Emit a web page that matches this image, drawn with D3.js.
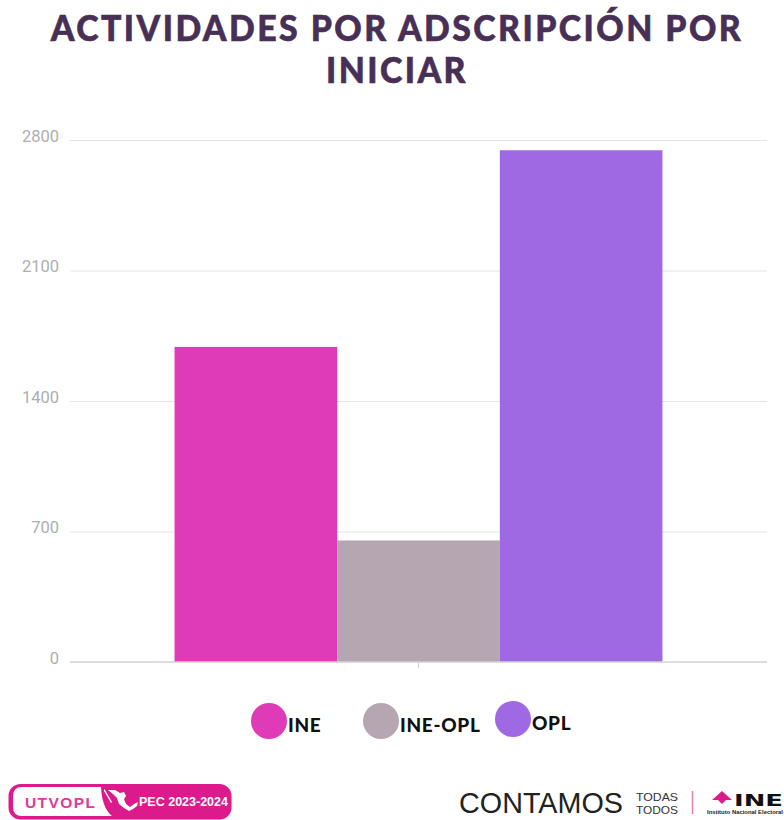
<!DOCTYPE html>
<html>
<head>
<meta charset="utf-8">
<script src="https://cdn.jsdelivr.net/npm/d3@7"></script>
<style>
  html, body { margin: 0; padding: 0; background: #fff; }
  svg { display: block; }
</style>
</head>
<body>
<div id="chart"></div>
<script>
const titleLines = ["ACTIVIDADES POR ADSCRIPCIÓN POR", "INICIAR"];
const categories = ["INE", "INE-OPL", "OPL"];
const values = [1690, 652, 2745];
const colors = ["#df3ab8", "#b6a6b1", "#9e69e3"];
const ticks = [0, 700, 1400, 2100, 2800];

const width = 784;
const height = 820;

const svg = d3
  .select("#chart")
  .append("svg")
  .attr("width", width)
  .attr("height", height);

// Title, squeezed a bit because the original face is narrower
svg
  .selectAll(".title")
  .data(titleLines)
  .join("text")
  .attr("class", "title")
  .attr("transform", (d, i) => `translate(397,${41 + i * 42}) scale(0.94,1)`)
  .attr("text-anchor", "middle")
  .attr("font-family", "Lato, sans-serif")
  .attr("font-weight", 900)
  .attr("font-size", 36)
  .attr("letter-spacing", 2.6)
  .attr("fill", "#472f56")
  .attr("stroke", "#472f56")
  .attr("stroke-width", 0.6)
  .text((d) => d);

// Scales
const y = d3.scaleLinear().domain([0, 2800]).range([662, 140]);
const outer = d3
  .scaleBand()
  .domain(["all"])
  .range([70, 767])
  .paddingInner(0.3)
  .paddingOuter(0.15);
const x = d3
  .scaleBand()
  .domain(categories)
  .range([outer("all"), outer("all") + outer.bandwidth()]);

// Grid
svg
  .selectAll(".grid")
  .data(ticks.filter((t) => t > 0))
  .join("line")
  .attr("class", "grid")
  .attr("x1", 70)
  .attr("x2", 767)
  .attr("y1", (d) => y(d) + 0.5)
  .attr("y2", (d) => y(d) + 0.5)
  .attr("stroke", "#e4e4e4");

// Y labels
svg
  .selectAll(".tick-label")
  .data(ticks)
  .join("text")
  .attr("class", "tick-label")
  .attr("x", 59)
  .attr("y", (d) => y(d) + 1.5)
  .attr("text-anchor", "end")
  .attr("font-family", "Roboto, sans-serif")
  .attr("font-size", 16.5)
  .attr("fill", "#aeaeae")
  .text((d) => d);

// Bars
svg
  .selectAll(".bar")
  .data(categories)
  .join("rect")
  .attr("class", "bar")
  .attr("x", (d) => x(d))
  .attr("width", x.bandwidth())
  .attr("y", (d, i) => y(values[i]))
  .attr("height", (d, i) => y(0) - y(values[i]))
  .attr("fill", (d, i) => colors[i]);

// Baseline and center tick
svg.append("line")
  .attr("x1", 70).attr("x2", 767)
  .attr("y1", 662).attr("y2", 662)
  .attr("stroke", "#d2d2d2").attr("stroke-width", 1.5);
svg.append("line")
  .attr("x1", 418.5).attr("x2", 418.5)
  .attr("y1", 662).attr("y2", 668)
  .attr("stroke", "#d2d2d2");

// Legend
const legendX = [269, 381, 513];
const legendY = [721, 721, 719];
const legend = svg
  .selectAll(".legend")
  .data(categories)
  .join("g")
  .attr("class", "legend")
  .attr("transform", (d, i) => `translate(${legendX[i]},${legendY[i]})`);
legend.append("circle")
  .attr("r", 18)
  .attr("fill", (d, i) => colors[i]);
legend.append("text")
  .attr("x", 19)
  .attr("y", 10.5)
  .attr("font-family", "Lato, sans-serif")
  .attr("font-weight", 900)
  .attr("font-size", 19)
  .attr("letter-spacing", 0.7)
  .attr("fill", "#111")
  .text((d) => d);

// UTVOPL logo
const logo = svg.append("g");
logo.append("rect")
  .attr("x", 8.5).attr("y", 784).attr("width", 223).attr("height", 35.5)
  .attr("rx", 12).attr("fill", "#dd1a8c");
logo.append("path")
  .attr("d", "M22,787 H101 Q102,808 112,816 H22 Q13,816 13,807 V796 Q13,787 22,787 Z")
  .attr("fill", "#fff");
logo.append("text")
  .attr("x", 25).attr("y", 807.5)
  .attr("font-family", "Liberation Sans, sans-serif")
  .attr("font-weight", 700)
  .attr("font-size", 15.5)
  .attr("letter-spacing", 1.4)
  .attr("fill", "#df3a9c")
  .text("UTVOPL");
// Map of Mexico
logo.append("path")
  .attr("d", "M104,789 L105,790 L112,802 L111,803 L104,791 Z M108,790 L115,790 L120,793 L124,792 L126,796 L124,799 L126,804 L130,807 L134,804 L138,802 L137,806 L133,809 L129,811 L124,808 L119,804 L117,798 L113,794 Z")
  .attr("fill", "#fff");
logo.append("text")
  .attr("x", 139).attr("y", 805.5)
  .attr("font-family", "Liberation Sans, sans-serif")
  .attr("font-weight", 700)
  .attr("font-size", 12.5)
  .attr("fill", "#fff")
  .text("PEC 2023-2024");

// CONTAMOS / INE logo
const right = svg.append("g");
right.append("text")
  .attr("x", 459).attr("y", 813)
  .attr("font-family", "Liberation Sans, sans-serif")
  .attr("font-size", 30)
  .attr("textLength", 164)
  .attr("lengthAdjust", "spacingAndGlyphs")
  .attr("fill", "#222")
  .text("CONTAMOS");
right.selectAll(".todas")
  .data(["TODAS", "TODOS"])
  .join("text")
  .attr("class", "todas")
  .attr("x", 636)
  .attr("y", (d, i) => 800.5 + i * 13)
  .attr("font-family", "Liberation Sans, sans-serif")
  .attr("font-size", 11.5)
  .attr("textLength", 42)
  .attr("lengthAdjust", "spacingAndGlyphs")
  .attr("fill", "#333")
  .text((d) => d);
right.append("line")
  .attr("x1", 692.5).attr("x2", 692.5)
  .attr("y1", 791).attr("y2", 814)
  .attr("stroke", "#e77fb9").attr("stroke-width", 1.5);
right.append("path")
  .attr("d", "M722,791 L732,800 L726,800 L722,804 L718,800 L712,800 Z")
  .attr("fill", "#dd1a8c");
right.append("text")
  .attr("x", 734).attr("y", 806)
  .attr("font-family", "DejaVu Sans, sans-serif")
  .attr("font-weight", 700)
  .attr("font-size", 15)
  .attr("textLength", 49)
  .attr("lengthAdjust", "spacingAndGlyphs")
  .attr("fill", "#111")
  .text("INE");
right.append("text")
  .attr("x", 707).attr("y", 814)
  .attr("font-family", "Liberation Sans, sans-serif")
  .attr("font-weight", 700)
  .attr("font-size", 4.5)
  .attr("textLength", 76)
  .attr("lengthAdjust", "spacingAndGlyphs")
  .attr("fill", "#222")
  .text("Instituto Nacional Electoral");
</script>
</body>
</html>
